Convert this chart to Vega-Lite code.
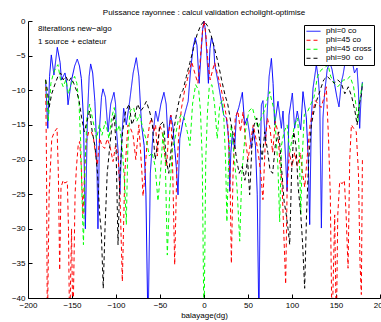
{
"$schema": "https://vega.github.io/schema/vega-lite/v6.json",
"width": 352, "height": 277,
"autosize": {"type": "none"},
"padding": {"left": 28, "top": 21, "right": 1, "bottom": 24},
"background": "white",
"title": {"text": "Puissance rayonnee : calcul validation echolight-optimise", "fontSize": 8, "fontWeight": "normal", "font": "Liberation Sans", "color": "black", "offset": 0, "anchor": "middle", "frame": "group"},
"config": {"view": {"stroke": null}},
"datasets": {
"blue": [
{"x":-180,"y":-8.5},{"x":-177.5,"y":-15.5},{"x":-175.5,"y":-8},{"x":-173.5,"y":-4.9},{"x":-170.5,"y":-7.8},{"x":-166.7,"y":-3.8},{"x":-163.5,"y":-6},{"x":-162,"y":-8.5},{"x":-158,"y":-7.5},{"x":-156,"y":-9},{"x":-154.5,"y":-12.1},{"x":-150.8,"y":-8.7},{"x":-147,"y":-6.5},{"x":-144,"y":-5.5},{"x":-141.5,"y":-6.5},{"x":-139.4,"y":-8.3},{"x":-137,"y":-14},{"x":-134.8,"y":-30},{"x":-132.5,"y":-14},{"x":-130.5,"y":-8},{"x":-128.8,"y":-6.2},{"x":-126.5,"y":-7.5},{"x":-124,"y":-11.6},{"x":-122,"y":-18},{"x":-120.5,"y":-30},{"x":-118.5,"y":-15},{"x":-116.5,"y":-11},{"x":-114.8,"y":-9.8},{"x":-112,"y":-11},{"x":-109,"y":-16},{"x":-106,"y":-12},{"x":-102.3,"y":-10.3},{"x":-100.5,"y":-12},{"x":-99.6,"y":-15.5},{"x":-97.5,"y":-19},{"x":-95.5,"y":-25},{"x":-93.5,"y":-17},{"x":-91.3,"y":-12.6},{"x":-88.3,"y":-15},{"x":-84.5,"y":-11.6},{"x":-80.5,"y":-7.5},{"x":-76.9,"y":-5.3},{"x":-74,"y":-8},{"x":-71,"y":-15},{"x":-68,"y":-18},{"x":-66,"y":-25},{"x":-63.6,"y":-45},{"x":-61,"y":-22},{"x":-58,"y":-16.4},{"x":-55,"y":-13},{"x":-52.3,"y":-14.5},{"x":-49,"y":-12},{"x":-45.5,"y":-10.3},{"x":-43,"y":-12},{"x":-41,"y":-16.9},{"x":-38,"y":-13.6},{"x":-35.5,"y":-15},{"x":-33.3,"y":-18.4},{"x":-31.5,"y":-21},{"x":-29.5,"y":-25.1},{"x":-27.5,"y":-17},{"x":-24,"y":-14.5},{"x":-21,"y":-13},{"x":-18,"y":-11.6},{"x":-15.5,"y":-7.5},{"x":-12.5,"y":-3.9},{"x":-10,"y":-2.4},{"x":-8,"y":-3.5},{"x":-5.5,"y":-9},{"x":-3.5,"y":-5},{"x":-1.5,"y":-1.2},{"x":0,"y":0},{"x":1.5,"y":-1.2},{"x":3.3,"y":-5},{"x":5,"y":-9},{"x":6.8,"y":-4},{"x":8.5,"y":-2.4},{"x":11,"y":-3.5},{"x":12.2,"y":-6.3},{"x":16,"y":-8.8},{"x":19.7,"y":-11.6},{"x":22.4,"y":-13.6},{"x":25.4,"y":-14},{"x":27.3,"y":-16},{"x":28.4,"y":-18.1},{"x":29.2,"y":-24.6},{"x":30.5,"y":-19},{"x":32.2,"y":-16.4},{"x":34.9,"y":-18.4},{"x":36.8,"y":-13.6},{"x":39.5,"y":-12.5},{"x":43.6,"y":-10.3},{"x":46.2,"y":-15},{"x":49,"y":-14},{"x":51.5,"y":-16},{"x":53.8,"y":-18.4},{"x":55.7,"y":-15.5},{"x":58.5,"y":-18},{"x":60.5,"y":-25},{"x":62.5,"y":-45},{"x":64,"y":-20},{"x":65.2,"y":-12.1},{"x":67,"y":-11.5},{"x":69.7,"y":-17.4},{"x":71.5,"y":-14},{"x":74,"y":-8},{"x":76.6,"y":-5.4},{"x":78.5,"y":-9},{"x":80.3,"y":-15},{"x":84.1,"y":-11.6},{"x":87.9,"y":-15.5},{"x":89.8,"y":-13},{"x":91.5,"y":-17},{"x":92.8,"y":-20},{"x":94.4,"y":-24.6},{"x":96.6,"y":-13.6},{"x":100.4,"y":-10.4},{"x":103,"y":-15.5},{"x":106,"y":-13},{"x":109.9,"y":-15.7},{"x":112.5,"y":-10.2},{"x":116.3,"y":-14},{"x":118.5,"y":-20},{"x":120.1,"y":-29.4},{"x":122,"y":-14},{"x":123.9,"y":-9.7},{"x":127.7,"y":-6.3},{"x":130,"y":-8.5},{"x":131.5,"y":-11.2},{"x":133.4,"y":-29.9},{"x":135.2,"y":-14},{"x":137.2,"y":-10.2},{"x":140,"y":-7},{"x":142.8,"y":-5.9},{"x":145.5,"y":-7},{"x":148.5,"y":-9.2},{"x":151,"y":-11},{"x":153.4,"y":-12.4},{"x":156.1,"y":-8.8},{"x":158,"y":-7.8},{"x":161,"y":-5.5},{"x":164,"y":-4.5},{"x":166,"y":-6},{"x":168.6,"y":-5.9},{"x":171,"y":-7.5},{"x":173.9,"y":-6.8},{"x":175.5,"y":-10},{"x":176.9,"y":-15.5},{"x":178.5,"y":-11},{"x":180,"y":-8.8}
],
"red": [
{"x":-180,"y":-8.5},{"x":-179,"y":-20},{"x":-178,"y":-45},{"x":-176,"y":-25},{"x":-173,"y":-17},{"x":-170,"y":-16},{"x":-167,"y":-15.5},{"x":-165.5,"y":-22},{"x":-164,"y":-36},{"x":-162.5,"y":-24},{"x":-160,"y":-23},{"x":-158.3,"y":-23.4},{"x":-155.3,"y":-23.2},{"x":-154,"y":-30},{"x":-152.7,"y":-45},{"x":-150.5,"y":-30},{"x":-149,"y":-45},{"x":-146.5,"y":-25},{"x":-145,"y":-21.2},{"x":-143,"y":-18},{"x":-141.3,"y":-17.4},{"x":-139.5,"y":-21},{"x":-137.5,"y":-28},{"x":-135.5,"y":-21},{"x":-133.7,"y":-17.4},{"x":-131,"y":-16},{"x":-128,"y":-16},{"x":-125.5,"y":-17},{"x":-123.5,"y":-19},{"x":-121.2,"y":-20.8},{"x":-118.6,"y":-16.9},{"x":-116,"y":-18},{"x":-112.9,"y":-18.4},{"x":-110,"y":-17},{"x":-107,"y":-18},{"x":-103.4,"y":-20.3},{"x":-100.5,"y":-18},{"x":-97.7,"y":-19.3},{"x":-95.5,"y":-25},{"x":-92.8,"y":-37.6},{"x":-90,"y":-22},{"x":-86.4,"y":-15},{"x":-83.5,"y":-15.5},{"x":-80.7,"y":-16.4},{"x":-77.5,"y":-20},{"x":-74,"y":-15},{"x":-70.5,"y":-22},{"x":-69.3,"y":-25.3},{"x":-67.4,"y":-22.7},{"x":-65,"y":-18},{"x":-62,"y":-15},{"x":-59.8,"y":-14},{"x":-57,"y":-16},{"x":-55,"y":-15},{"x":-53,"y":-19.5},{"x":-50.5,"y":-15},{"x":-47.5,"y":-16},{"x":-45,"y":-19},{"x":-42.5,"y":-21},{"x":-40,"y":-16},{"x":-37.5,"y":-13.6},{"x":-35.5,"y":-22},{"x":-33.3,"y":-35.2},{"x":-31,"y":-22},{"x":-28.5,"y":-16},{"x":-25.5,"y":-12.5},{"x":-22,"y":-10},{"x":-19,"y":-8.5},{"x":-16,"y":-6.8},{"x":-14,"y":-5.9},{"x":-10.5,"y":-7.5},{"x":-7,"y":-9},{"x":-4.5,"y":-6},{"x":-2,"y":-1.8},{"x":0,"y":0},{"x":2,"y":-1.8},{"x":4.5,"y":-6},{"x":7,"y":-8.5},{"x":10,"y":-7},{"x":12.2,"y":-6},{"x":15,"y":-7.5},{"x":19,"y":-9.5},{"x":23,"y":-12},{"x":27,"y":-15},{"x":29.5,"y":-22},{"x":31.1,"y":-35},{"x":33,"y":-22},{"x":35.5,"y":-14},{"x":38.5,"y":-13},{"x":41.5,"y":-16},{"x":44.4,"y":-13.1},{"x":47,"y":-17},{"x":50,"y":-20},{"x":53.5,"y":-17},{"x":56,"y":-15},{"x":59,"y":-17},{"x":61.5,"y":-19},{"x":64.5,"y":-22},{"x":67,"y":-25.8},{"x":69.5,"y":-18},{"x":72,"y":-14},{"x":75,"y":-15.5},{"x":78,"y":-19},{"x":81,"y":-14.5},{"x":84,"y":-16},{"x":86.5,"y":-21},{"x":88.5,"y":-23},{"x":90.5,"y":-30},{"x":92.8,"y":-38},{"x":94.5,"y":-24},{"x":97,"y":-19},{"x":100,"y":-21},{"x":103,"y":-19},{"x":106,"y":-21},{"x":109.5,"y":-19},{"x":112,"y":-22},{"x":114.5,"y":-24},{"x":117,"y":-20},{"x":120.5,"y":-15},{"x":123,"y":-13.5},{"x":126.5,"y":-11.5},{"x":130,"y":-12},{"x":133,"y":-12.5},{"x":136.5,"y":-11},{"x":139,"y":-9.5},{"x":141.5,"y":-17},{"x":143.5,"y":-25},{"x":145.5,"y":-45},{"x":148.5,"y":-28},{"x":150.4,"y":-45},{"x":152,"y":-28},{"x":154.2,"y":-23.2},{"x":157,"y":-23.5},{"x":159.5,"y":-23},{"x":161.5,"y":-28},{"x":163.7,"y":-35.7},{"x":165.6,"y":-20},{"x":167.5,"y":-15},{"x":170,"y":-15.5},{"x":173,"y":-16},{"x":175.5,"y":-22},{"x":177.3,"y":-35},{"x":178.8,"y":-39.5},{"x":180,"y":-20}
],
"green": [
{"x":-180,"y":-8.5},{"x":-178.5,"y":-11},{"x":-177,"y":-14.5},{"x":-174,"y":-9},{"x":-171,"y":-7.5},{"x":-168.5,"y":-6.8},{"x":-166,"y":-6.3},{"x":-163,"y":-8.5},{"x":-160,"y":-9.5},{"x":-157,"y":-8.5},{"x":-154,"y":-10.5},{"x":-150.5,"y":-9},{"x":-147,"y":-8},{"x":-144.5,"y":-9},{"x":-142,"y":-12},{"x":-140,"y":-18},{"x":-138.5,"y":-26},{"x":-137,"y":-32.3},{"x":-135,"y":-20},{"x":-133,"y":-14},{"x":-130,"y":-12},{"x":-126,"y":-14.5},{"x":-122,"y":-17},{"x":-119,"y":-15},{"x":-116,"y":-16.5},{"x":-112,"y":-14.5},{"x":-108,"y":-17},{"x":-105,"y":-14},{"x":-102,"y":-12.5},{"x":-99,"y":-16},{"x":-96,"y":-15},{"x":-92.5,"y":-19},{"x":-90,"y":-24},{"x":-88.3,"y":-29.4},{"x":-86.5,"y":-18},{"x":-84,"y":-13},{"x":-80,"y":-12.5},{"x":-76.5,"y":-14.5},{"x":-73,"y":-13.5},{"x":-69.5,"y":-15.5},{"x":-66,"y":-17},{"x":-62,"y":-19.5},{"x":-59,"y":-19},{"x":-55.5,"y":-21},{"x":-52.3,"y":-26},{"x":-49.5,"y":-22},{"x":-46.5,"y":-16},{"x":-44,"y":-20},{"x":-41.7,"y":-33.8},{"x":-39,"y":-25},{"x":-36,"y":-18.5},{"x":-33,"y":-17},{"x":-29.5,"y":-14.5},{"x":-26,"y":-13.5},{"x":-22.5,"y":-14},{"x":-19,"y":-16},{"x":-16,"y":-18},{"x":-13,"y":-12},{"x":-9.5,"y":-9.2},{"x":-6,"y":-10},{"x":-4,"y":-13},{"x":-2,"y":-20},{"x":0,"y":-45},{"x":2,"y":-20},{"x":4,"y":-13},{"x":6,"y":-9.5},{"x":9,"y":-9.2},{"x":12,"y":-12},{"x":15,"y":-17},{"x":18,"y":-12},{"x":21,"y":-11.5},{"x":22.5,"y":-14},{"x":24.5,"y":-20},{"x":26,"y":-29},{"x":28,"y":-20},{"x":31,"y":-15},{"x":34.5,"y":-20},{"x":37.5,"y":-24},{"x":40.6,"y":-31.8},{"x":43,"y":-22},{"x":47,"y":-16},{"x":51,"y":-13},{"x":55,"y":-12.5},{"x":58,"y":-14},{"x":61.5,"y":-15.5},{"x":65,"y":-14},{"x":68.5,"y":-13},{"x":71.5,"y":-11.5},{"x":74.7,"y":-10.2},{"x":77,"y":-11.5},{"x":80,"y":-13},{"x":82,"y":-17},{"x":84,"y":-21},{"x":86,"y":-29},{"x":88,"y":-18},{"x":91,"y":-16},{"x":94.5,"y":-15},{"x":97.5,"y":-19},{"x":100,"y":-17},{"x":103,"y":-15},{"x":106.5,"y":-14},{"x":108.5,"y":-20},{"x":110,"y":-28},{"x":111.5,"y":-20},{"x":114,"y":-13.5},{"x":118,"y":-13},{"x":121.5,"y":-12},{"x":125,"y":-11},{"x":129,"y":-8},{"x":133.5,"y":-7},{"x":137,"y":-6.8},{"x":140.9,"y":-6.3},{"x":144,"y":-8},{"x":148,"y":-9},{"x":152,"y":-9.5},{"x":155.5,"y":-9},{"x":158.5,"y":-8.5},{"x":162,"y":-8.5},{"x":166,"y":-8},{"x":170,"y":-9.5},{"x":172.5,"y":-12},{"x":175,"y":-14.5},{"x":177,"y":-11.5},{"x":180,"y":-9}
],
"black": [
{"x":-180,"y":-8.5},{"x":-178,"y":-10},{"x":-176,"y":-12.5},{"x":-173,"y":-10.5},{"x":-169,"y":-9},{"x":-166,"y":-8},{"x":-163,"y":-7.5},{"x":-160,"y":-8.5},{"x":-157,"y":-8},{"x":-154,"y":-8.8},{"x":-151,"y":-8.2},{"x":-148,"y":-9},{"x":-145,"y":-10},{"x":-142,"y":-11.5},{"x":-139,"y":-14},{"x":-136,"y":-16},{"x":-133,"y":-14.5},{"x":-130,"y":-13},{"x":-127,"y":-16},{"x":-124,"y":-18},{"x":-121,"y":-22},{"x":-118.5,"y":-28},{"x":-116.7,"y":-30.4},{"x":-114.5,"y":-38.6},{"x":-112.5,"y":-30},{"x":-110,"y":-22},{"x":-107,"y":-18},{"x":-104.5,"y":-15},{"x":-102,"y":-13.5},{"x":-100,"y":-18},{"x":-97.7,"y":-32.3},{"x":-95.5,"y":-22},{"x":-92.5,"y":-16},{"x":-89,"y":-13},{"x":-85,"y":-12},{"x":-82,"y":-15},{"x":-79,"y":-14},{"x":-75.5,"y":-12},{"x":-72,"y":-13},{"x":-69,"y":-12.5},{"x":-65.5,"y":-11.6},{"x":-62,"y":-13},{"x":-59,"y":-14.5},{"x":-55.5,"y":-20},{"x":-53,"y":-18},{"x":-50,"y":-15},{"x":-46,"y":-14.5},{"x":-43,"y":-20},{"x":-40,"y":-22},{"x":-37,"y":-18},{"x":-34,"y":-15.5},{"x":-30,"y":-12.5},{"x":-26.5,"y":-10.5},{"x":-23.9,"y":-10},{"x":-20,"y":-8},{"x":-16,"y":-6},{"x":-12,"y":-4},{"x":-8,"y":-2},{"x":-4,"y":-0.7},{"x":0,"y":0},{"x":4,"y":-0.7},{"x":8,"y":-2},{"x":12,"y":-4},{"x":16,"y":-6},{"x":20,"y":-8.5},{"x":23.9,"y":-10.7},{"x":27,"y":-12},{"x":31,"y":-15},{"x":34,"y":-17},{"x":37,"y":-20},{"x":40,"y":-22},{"x":43.5,"y":-21},{"x":46.5,"y":-23},{"x":49.5,"y":-20},{"x":51.9,"y":-25.1},{"x":54.5,"y":-18},{"x":57,"y":-15},{"x":60,"y":-14},{"x":63,"y":-17},{"x":66,"y":-20},{"x":69,"y":-16},{"x":72.5,"y":-19},{"x":75,"y":-21.5},{"x":78,"y":-22},{"x":81,"y":-18},{"x":85,"y":-16},{"x":88,"y":-21},{"x":91,"y":-26},{"x":93.5,"y":-28},{"x":95.5,"y":-30},{"x":97.4,"y":-32.3},{"x":99.5,"y":-22},{"x":102,"y":-16},{"x":104.5,"y":-18},{"x":107,"y":-24},{"x":110,"y":-28},{"x":112,"y":-32},{"x":114.4,"y":-38.6},{"x":116.5,"y":-28},{"x":119,"y":-20},{"x":122,"y":-15},{"x":125,"y":-13},{"x":128,"y":-11.5},{"x":132,"y":-10},{"x":136,"y":-8.5},{"x":140,"y":-8},{"x":144,"y":-8.5},{"x":148,"y":-9},{"x":152,"y":-8.5},{"x":156,"y":-9},{"x":160,"y":-10.5},{"x":164,"y":-9.5},{"x":168,"y":-11},{"x":171.5,"y":-13},{"x":174,"y":-15},{"x":176.5,"y":-12},{"x":179,"y":-10.5},{"x":180,"y":-9}
],
"notes": [
{"x":-188.6,"y":-1.2,"label":"8iterations new−algo"},
{"x":-188.6,"y":-3.0,"label":"1 source + eclateur"}
]
},
"encoding": {
  "x": {"field": "x", "type": "quantitative", "scale": {"domain": [-200, 200], "nice": false, "zero": false},
   "axis": {"values": [-200,-150,-100,-50,0,50,100,150,200], "format": "d", "title": "balayage(dg)", "grid": false, "tickSize": -4, "labelPadding": 7, "labelFlush": false, "labelOverlap": false, "labelFontSize": 8, "labelFont": "Liberation Sans", "labelColor": "black", "titleFont": "Liberation Sans", "titleFontSize": 8, "titleFontWeight": "normal", "titleColor": "black", "titlePadding": 2, "domainColor": "black", "tickColor": "black"}},
  "y": {"field": "y", "type": "quantitative", "scale": {"domain": [-40, 0], "nice": false, "zero": false},
   "axis": {"values": [0,-5,-10,-15,-20,-25,-30,-35,-40], "format": "d", "title": null, "grid": false, "tickSize": -4, "labelPadding": 7, "labelFlush": false, "labelOverlap": false, "labelFontSize": 8, "labelFont": "Liberation Sans", "labelColor": "black", "domainColor": "black", "tickColor": "black"}}
},
"layer": [
{"data": {"name": "blue"}, "mark": {"type": "line", "clip": true, "strokeWidth": 1},
 "encoding": {
  "color": {"datum": "phi=0 co", "type": "nominal",
   "scale": {"domain": ["phi=0 co", "phi=45 co", "phi=45 cross", "phi=90  co"], "range": ["#0000ff", "#ff0000", "#00ff00", "#000000"]},
   "legend": {"orient": "none", "legendX": 276, "legendY": 4, "title": null, "fillColor": "white", "strokeColor": "black", "padding": 2, "clipHeight": 8.5, "rowPadding": 0, "symbolType": "stroke", "symbolSize": 196, "symbolStrokeWidth": 1, "labelFontSize": 8, "labelFont": "Liberation Sans", "labelColor": "black", "labelOffset": 5, "labelExpr": "datum.label == 'phi=90  co' ? 'phi=90\u00a0 co' : datum.label"}},
  "strokeDash": {"datum": "phi=0 co", "type": "nominal",
   "scale": {"domain": ["phi=0 co", "phi=45 co", "phi=45 cross", "phi=90  co"], "range": [[1, 0], [4, 3], [4, 3], [4, 3]]},
   "legend": {"orient": "none", "legendX": 276, "legendY": 4, "title": null, "fillColor": "white", "strokeColor": "black", "padding": 2, "clipHeight": 8.5, "rowPadding": 0, "symbolType": "stroke", "symbolSize": 196, "symbolStrokeWidth": 1, "labelFontSize": 8, "labelFont": "Liberation Sans", "labelColor": "black", "labelOffset": 5, "labelExpr": "datum.label == 'phi=90  co' ? 'phi=90\u00a0 co' : datum.label"}}
 }},
{"data": {"name": "red"}, "mark": {"type": "line", "clip": true, "strokeWidth": 1},
 "encoding": {"color": {"datum": "phi=45 co", "type": "nominal"}, "strokeDash": {"datum": "phi=45 co", "type": "nominal"}}},
{"data": {"name": "green"}, "mark": {"type": "line", "clip": true, "strokeWidth": 1},
 "encoding": {"color": {"datum": "phi=45 cross", "type": "nominal"}, "strokeDash": {"datum": "phi=45 cross", "type": "nominal"}}},
{"data": {"name": "black"}, "mark": {"type": "line", "clip": true, "strokeWidth": 1},
 "encoding": {"color": {"datum": "phi=90  co", "type": "nominal"}, "strokeDash": {"datum": "phi=90  co", "type": "nominal"}}},
{"data": {"name": "notes"}, "mark": {"type": "text", "align": "left", "baseline": "middle", "fontSize": 8, "font": "Liberation Sans", "color": "black"},
 "encoding": {"text": {"field": "label"}}}
]
}
